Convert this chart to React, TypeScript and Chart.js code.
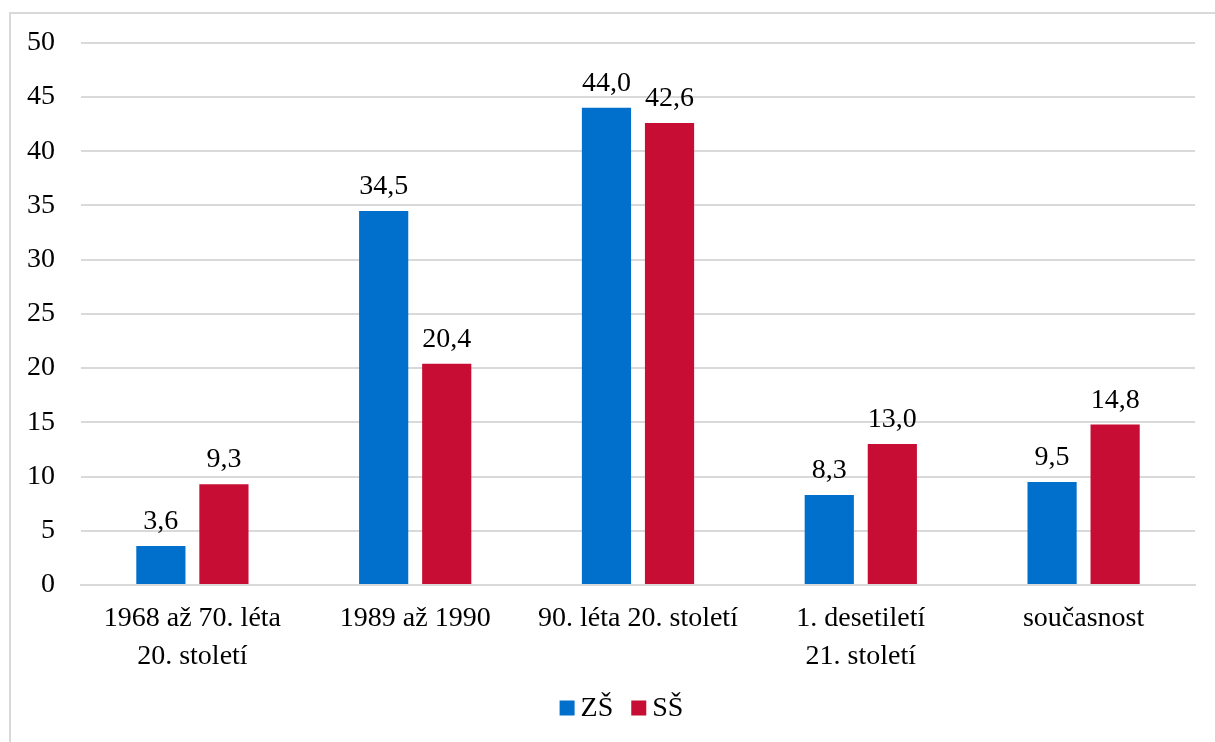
import React, { useEffect, useRef } from "react";
import { Chart, registerables } from "chart.js";

Chart.register(...registerables);

const categories: (string | string[])[] = [
  ["1968 až 70. léta", "20. století"],
  "1989 až 1990",
  "90. léta 20. století",
  ["1. desetiletí", "21. století"],
  "současnost",
];
const zsValues = [3.6, 34.5, 44.0, 8.3, 9.5];
const ssValues = [9.3, 20.4, 42.6, 13.0, 14.8];
const seriesNames = ["ZŠ", "SŠ"];
const seriesColors = ["#0070CC", "#C70D33"];

const FONT = "'Liberation Serif', 'Times New Roman', serif";
const FSIZE = 28;

const dataLabelPlugin = {
  id: "dataLabels",
  afterDatasetsDraw(chart: any) {
    const ctx = chart.ctx;
    ctx.save();
    ctx.font = `${FSIZE}px ${FONT}`;
    ctx.fillStyle = "#000";
    ctx.textAlign = "center";
    ctx.textBaseline = "alphabetic";
    chart.data.datasets.forEach((ds: any, i: number) => {
      const meta = chart.getDatasetMeta(i);
      meta.data.forEach((el: any, j: number) => {
        const v = ds.data[j] as number;
        const txt = v.toFixed(1).replace(".", ",");
        ctx.fillText(txt, el.x, el.y - 17);
      });
    });
    ctx.restore();
  },
};

const legendPlugin = {
  id: "customLegend",
  afterDraw(chart: any) {
    const ctx = chart.ctx;
    ctx.save();
    ctx.font = `${FSIZE}px ${FONT}`;
    ctx.textBaseline = "middle";
    ctx.textAlign = "left";
    const box = 15;
    const gapText = 6;
    const gapItem = 18;
    const items = chart.data.datasets.map((ds: any) => ({
      label: ds.label,
      color: ds.backgroundColor,
      w: ctx.measureText(ds.label).width,
    }));
    const total =
      items.reduce((s: number, it: any) => s + box + gapText + it.w, 0) + gapItem * (items.length - 1);
    let x = chart.width / 2 + 14 - total / 2;
    const cy = chart.height - 34;
    items.forEach((it: any) => {
      ctx.fillStyle = it.color;
      ctx.fillRect(x, cy - box / 2, box, box);
      x += box + gapText;
      ctx.fillStyle = "#000";
      ctx.fillText(it.label, x, cy + 1);
      x += it.w + gapItem;
    });
    ctx.restore();
  },
};

export default function App() {
  const ref = useRef<HTMLCanvasElement | null>(null);

  useEffect(() => {
    document.body.style.margin = "0";
    const canvas = ref.current;
    if (!canvas) return;
    const chart = new Chart(canvas, {
      type: "bar",
      data: {
        labels: categories,
        datasets: [
          {
            label: seriesNames[0],
            data: zsValues,
            backgroundColor: seriesColors[0],
            borderWidth: 0,
            categoryPercentage: 0.566,
            barPercentage: 0.78,
          },
          {
            label: seriesNames[1],
            data: ssValues,
            backgroundColor: seriesColors[1],
            borderWidth: 0,
            categoryPercentage: 0.566,
            barPercentage: 0.78,
          },
        ],
      },
      options: {
        animation: false,
        responsive: false,
        maintainAspectRatio: false,
        layout: { padding: { left: 0, right: 20, top: 42, bottom: 57 } },
        plugins: {
          tooltip: { enabled: false },
          legend: { display: false },
        },
        scales: {
          x: {
            grid: { display: false, drawTicks: false },
            border: { display: true, color: "#d9d9d9", width: 2 },
            ticks: {
              color: "#000",
              padding: 15,
              maxRotation: 0,
              autoSkip: false,
              font: { family: FONT, size: FSIZE, lineHeight: 1.35 },
            },
            afterFit(scale: any) {
              scale.height = 100;
            },
          },
          y: {
            min: 0,
            max: 50,
            ticks: {
              stepSize: 5,
              color: "#000",
              padding: 26,
              font: { family: FONT, size: FSIZE },
            },
            grid: { color: "#d9d9d9", lineWidth: 2, drawTicks: false },
            border: { display: false },
            afterFit(scale: any) {
              scale.width = 81;
            },
          },
        },
      },
      plugins: [dataLabelPlugin, legendPlugin],
    });
    return () => chart.destroy();
  }, []);

  return (
    <div style={{ position: "relative", width: 1215, height: 742, overflow: "hidden", background: "#fff" }}>
      <div
        style={{
          position: "absolute",
          left: 9,
          top: 12,
          width: 1240,
          height: 760,
          border: "2px solid #d9d9d9",
          boxSizing: "border-box",
        }}
      />
      <canvas ref={ref} width={1215} height={742} style={{ position: "absolute", left: 0, top: 0 }} />
    </div>
  );
}
